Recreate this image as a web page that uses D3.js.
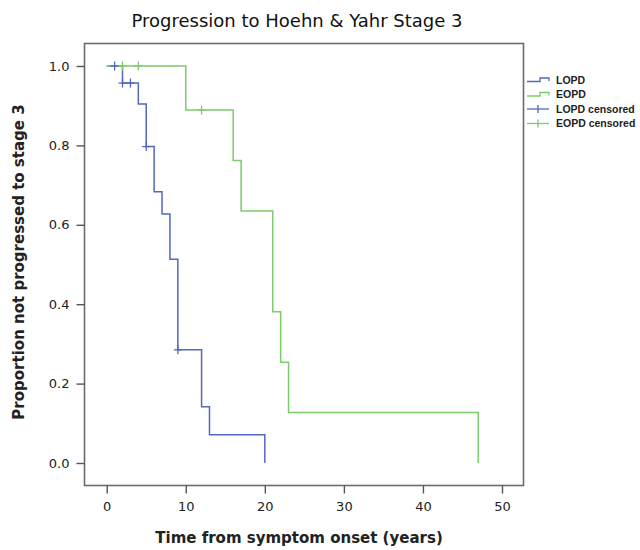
<!DOCTYPE html>
<html>
<head>
<meta charset="utf-8">
<script src="https://cdn.jsdelivr.net/npm/d3@7/dist/d3.min.js"></script>
<style>
  html, body { margin: 0; padding: 0; background: #fff; }
  svg { display: block; }
</style>
</head>
<body>
<svg id="chart" width="640" height="550"></svg>
<script>
// ---- Data ----
const seriesNames = ["LOPD", "EOPD"];
const lopdTimes  = [0, 2, 4, 5, 6, 7, 8, 9, 12, 13, 20];
const lopdValues = [1.0, 0.957, 0.904, 0.797, 0.683, 0.627, 0.513, 0.285, 0.142, 0.071, 0.0];
const eopdTimes  = [0, 10, 16, 17, 21, 22, 23, 47];
const eopdValues = [1.0, 0.889, 0.762, 0.635, 0.381, 0.254, 0.127, 0.0];
const lopdCensorTimes  = [1, 2, 3, 5, 9];
const lopdCensorValues = [1.0, 0.957, 0.957, 0.797, 0.285];
const eopdCensorTimes  = [2, 4, 12];
const eopdCensorValues = [1.0, 1.0, 0.889];
const xTicks = [0, 10, 20, 30, 40, 50];
const yTicks = [0.0, 0.2, 0.4, 0.6, 0.8, 1.0];
const legendLabels = ["LOPD", "EOPD", "LOPD censored", "EOPD censored"];

const colors = { LOPD: "#5468bd", EOPD: "#7ccb6c" };

const svg = d3.select("#chart");

const x = d3.scaleLinear().domain([0, 50]).range([106.7, 502]);
const y = d3.scaleLinear().domain([0, 1]).range([463, 66]);

const box = { left: 84.5, top: 43.5, right: 523.5, bottom: 485.5 };

// Title
svg.append("text")
  .attr("x", 297).attr("y", 27)
  .attr("text-anchor", "middle")
  .attr("font-family", "DejaVu Sans, sans-serif")
  .attr("font-size", 18)
  .attr("fill", "#111")
  .text("Progression to Hoehn & Yahr Stage 3");

// Plot frame
svg.append("rect")
  .attr("x", box.left).attr("y", box.top)
  .attr("width", box.right - box.left).attr("height", box.bottom - box.top)
  .attr("fill", "none").attr("stroke", "#6b6b6b").attr("stroke-width", 1.6);

// Axes
const xAxis = d3.axisBottom(x).tickValues(xTicks).tickSize(8).tickPadding(8)
  .tickFormat(d3.format("d"));
const gx = svg.append("g").attr("transform", `translate(0,${box.bottom})`).call(xAxis);
gx.select(".domain").remove();
gx.selectAll(".tick line").attr("stroke", "#555").attr("stroke-width", 1.4);
gx.selectAll(".tick text").attr("font-family", "DejaVu Sans, sans-serif")
  .attr("font-size", 13).attr("fill", "#222");

const yAxis = d3.axisLeft(y).tickValues(yTicks).tickSize(8).tickPadding(7)
  .tickFormat(d3.format(".1f"));
const gy = svg.append("g").attr("transform", `translate(${box.left},0)`).call(yAxis);
gy.select(".domain").remove();
gy.selectAll(".tick line").attr("stroke", "#555").attr("stroke-width", 1.4);
gy.selectAll(".tick text").attr("font-family", "DejaVu Sans, sans-serif")
  .attr("font-size", 13).attr("fill", "#222");

// Axis titles
svg.append("text")
  .attr("x", 299).attr("y", 543)
  .attr("text-anchor", "middle")
  .attr("font-family", "DejaVu Sans, sans-serif")
  .attr("font-weight", "bold")
  .attr("font-size", 15)
  .attr("fill", "#222")
  .text("Time from symptom onset (years)");

svg.append("text")
  .attr("transform", "translate(24,262) rotate(-90)")
  .attr("text-anchor", "middle")
  .attr("font-family", "DejaVu Sans, sans-serif")
  .attr("font-weight", "bold")
  .attr("font-size", 15)
  .attr("fill", "#222")
  .text("Proportion not progressed to stage 3");

// Step curves
const line = d3.line()
  .x(d => x(d[0])).y(d => y(d[1]))
  .curve(d3.curveStepAfter);

const lopd = lopdTimes.map((t, i) => [t, lopdValues[i]]);
const eopd = eopdTimes.map((t, i) => [t, eopdValues[i]]);

svg.append("path").datum(lopd)
  .attr("d", line).attr("fill", "none")
  .attr("stroke", colors.LOPD).attr("stroke-width", 1.5);
svg.append("path").datum(eopd)
  .attr("d", line).attr("fill", "none")
  .attr("stroke", colors.EOPD).attr("stroke-width", 1.5);

// Censor marks (+)
function drawCensor(times, values, color) {
  const pts = times.map((t, i) => [t, values[i]]);
  const g = svg.append("g").attr("stroke", color).attr("stroke-width", 1.3);
  g.selectAll("line.v").data(pts).join("line")
    .attr("x1", d => x(d[0])).attr("x2", d => x(d[0]))
    .attr("y1", d => y(d[1]) - 4.5).attr("y2", d => y(d[1]) + 4.5);
  g.selectAll("line.h").data(pts).join("line")
    .attr("x1", d => x(d[0]) - 4).attr("x2", d => x(d[0]) + 4)
    .attr("y1", d => y(d[1])).attr("y2", d => y(d[1]));
}
drawCensor(lopdCensorTimes, lopdCensorValues, colors.LOPD);
drawCensor(eopdCensorTimes, eopdCensorValues, colors.EOPD);

// Legend
const legY = [80, 94.5, 109, 123.5];
const legX0 = 527, legX1 = 549, legText = 556;
legendLabels.forEach((lab, i) => {
  const col = i % 2 === 0 ? colors.LOPD : colors.EOPD;
  const yy = legY[i];
  if (i < 2) {
    svg.append("path")
      .attr("d", `M${legX0},${yy + 1.5}H${(legX0 + legX1) / 2 + 2}V${yy - 2}H${legX1}V${yy + 1}`)
      .attr("fill", "none").attr("stroke", col).attr("stroke-width", 1.3);
  } else {
    svg.append("line").attr("x1", legX0).attr("x2", legX1)
      .attr("y1", yy).attr("y2", yy).attr("stroke", col).attr("stroke-width", 1.3);
    svg.append("line").attr("x1", (legX0 + legX1) / 2).attr("x2", (legX0 + legX1) / 2)
      .attr("y1", yy - 4).attr("y2", yy + 4).attr("stroke", col).attr("stroke-width", 1.3);
  }
  svg.append("text")
    .attr("x", legText).attr("y", yy + 3.8)
    .attr("font-family", "Liberation Sans, Arial, sans-serif")
    .attr("font-weight", "bold")
    .attr("font-size", 10.5)
    .attr("fill", "#222")
    .text(lab);
});
</script>
</body>
</html>
